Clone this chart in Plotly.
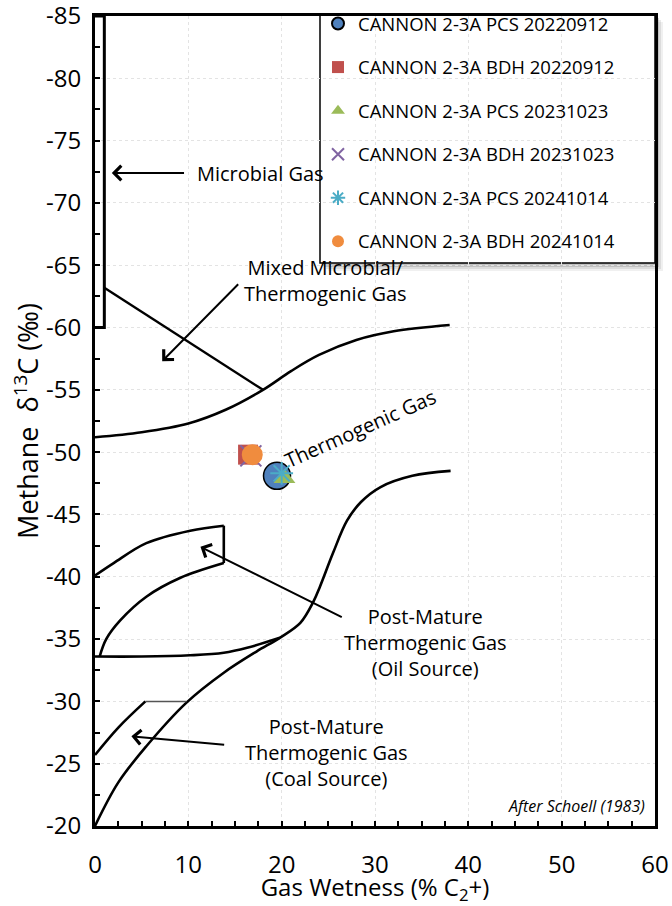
import plotly.graph_objects as go

# ---------------- data ----------------
# Sample points (Gas wetness %, methane d13C permil)
series_names = [
    "CANNON 2-3A PCS 20220912",
    "CANNON 2-3A BDH 20220912",
    "CANNON 2-3A PCS 20231023",
    "CANNON 2-3A BDH 20231023",
    "CANNON 2-3A PCS 20241014",
    "CANNON 2-3A BDH 20241014",
]
series_x = [19.5, 16.4, 20.3, 16.7, 20.0, 16.85]
series_y = [-48.1, -49.8, -47.9, -49.7, -48.3, -49.8]

# Schoell (1983) field boundaries
microbial_box_x = [0, 1, 1, 0]
microbial_box_y = [-85, -85, -60, -60]

mixed_line_x = [1, 18]
mixed_line_y = [-63.2, -55.0]

thermo_upper_x = [0, 5, 10, 14, 18, 21, 24, 28, 32, 38]
thermo_upper_y = [-51.2, -51.6, -52.3, -53.4, -55.0, -56.5, -57.8, -59.0, -59.7, -60.2]

thermo_lower_x = [0, 2.5, 5.5, 9.8, 13.8, 17.3, 19.8, 22, 23.4, 24.1, 25.5, 27.0, 28.5, 30.6, 34, 38.1]
thermo_lower_y = [-20, -23.5, -26.4, -29.9, -32.3, -34.0, -35.1, -36.3, -38.0, -39.2, -41.9, -44.5, -46.0, -47.2, -48.1, -48.5]

oil_base_x = [0, 5, 10.2, 13.8, 16.3, 19.8]
oil_base_y = [-33.6, -33.6, -33.7, -33.9, -34.3, -35.1]

oil_top_x = [0, 2, 5.5, 10.2, 13.8]
oil_top_y = [-40.1, -41.1, -42.7, -43.7, -44.1]

oil_edge_x = [13.8, 13.8]
oil_edge_y = [-44.1, -41.1]

oil_inner_x = [13.8, 9.1, 5.5, 2.7, 1.2, 0.5]
oil_inner_y = [-41.1, -39.9, -38.4, -36.5, -35.0, -33.6]

coal_top_x = [0, 2.5, 5.4]
coal_top_y = [-25.7, -27.9, -30.0]

coal_flat_x = [5.4, 9.8]
coal_flat_y = [-30.0, -30.0]

x_ticks = [0, 10, 20, 30, 40, 50, 60]
x_tick_text = ["0", "10", "20", "30", "40", "50", "60"]
y_ticks = [-85, -80, -75, -70, -65, -60, -55, -50, -45, -40, -35, -30, -25, -20]
y_tick_text = ["-85", "-80", "-75", "-70", "-65", "-60", "-55", "-50", "-45", "-40", "-35", "-30", "-25", "-20"]

# ---------------- styling ----------------
FONT = "Open Sans"
INK = "#000000"
colors = ["#4F81BD", "#C0504D", "#9BBB59", "#8064A2", "#4BACC6", "#F08C3E"]
symbols = ["circle", "square", "triangle-up", "x-thin-open", "asterisk-open", "circle"]
sizes = [27, 20, 19, 21, 19, 21]

fig = go.Figure()

def curve(x, y, shape="spline", width=2.6, color="black"):
    fig.add_trace(go.Scatter(x=x, y=y, mode="lines", showlegend=False, hoverinfo="skip",
                             line=dict(color=color, width=width, shape=shape, smoothing=1.0)))

curve(microbial_box_x, microbial_box_y, shape="linear", width=3)
curve(mixed_line_x, mixed_line_y, shape="linear", width=2.4)
curve(thermo_upper_x, thermo_upper_y)
curve(thermo_lower_x, thermo_lower_y)
curve(oil_base_x, oil_base_y)
curve(oil_top_x, oil_top_y)
curve(oil_edge_x, oil_edge_y, shape="linear")
curve(oil_inner_x, oil_inner_y)
curve(coal_top_x, coal_top_y)
curve(coal_flat_x, coal_flat_y, shape="linear", width=1.5, color="#555555")

for i, name in enumerate(series_names):
    sym = symbols[i]
    if sym.endswith("-open"):
        marker = dict(symbol=sym, size=sizes[i], color=colors[i],
                      line=dict(color=colors[i], width=2))
    elif i == 0:
        marker = dict(symbol=sym, size=sizes[i], color=colors[i],
                      line=dict(color="black", width=1.5))
    else:
        marker = dict(symbol=sym, size=sizes[i], color=colors[i], line=dict(width=0))
    fig.add_trace(go.Scatter(x=[series_x[i]], y=[series_y[i]], mode="markers", name=name,
                             marker=marker, legendgroup=name))

# ---------------- annotations ----------------
ann = []
def arrow(x_head, y_head, x_tail, y_tail):
    ann.append(dict(x=x_head, y=y_head, ax=x_tail, ay=y_tail, xref="x", yref="y",
                    axref="x", ayref="y", text="", showarrow=True, arrowhead=4,
                    arrowsize=1.4, arrowwidth=2, arrowcolor="black", standoff=0, startstandoff=0))

def label(x, y, text, size=20, anchor="center", angle=0):
    ann.append(dict(x=x, y=y, xref="x", yref="y", text=text, showarrow=False,
                    xanchor=anchor, yanchor="middle", textangle=angle,
                    font=dict(family=FONT, size=size, color=INK)))

arrow(1.8, -72.4, 9.7, -72.4)
label(10.7, -72.4, "Microbial Gas", anchor="left")

arrow(7.2, -57.3, 15.5, -63.6)
label(24.7, -63.8, "Mixed Microbial/<br>Thermogenic Gas")

label(28.4, -51.9, "Thermogenic Gas", angle=-24)

arrow(11.3, -42.4, 26.6, -36.7)
label(35.4, -34.7, "Post-Mature<br>Thermogenic Gas<br>(Oil Source)")

arrow(3.9, -27.2, 14.0, -26.5)
label(24.8, -25.9, "Post-Mature<br>Thermogenic Gas<br>(Coal Source)")

ann.append(dict(x=59.1, y=-21.6, xref="x", yref="y", text="<i>After Schoell (1983)</i>",
                showarrow=False, xanchor="right", yanchor="middle",
                font=dict(family=FONT, size=16, color=INK)))

# ---------------- legend box (with soft shadow) ----------------
W, H = 672, 906
L, R, T, B = 95, 17, 16, 80
pw, ph = W - L - R, H - T - B

def px_to_paper(x0, y0, x1, y1):
    return dict(x0=(x0 - L) / pw, x1=(x1 - L) / pw,
                y0=(H - B - y1) / ph, y1=(H - B - y0) / ph)

shapes = []
for off, op in [(8, 0.10), (6, 0.15), (4, 0.25)]:
    shapes.append(dict(type="rect", xref="paper", yref="paper", layer="between",
                       fillcolor=f"rgba(110,110,110,{op})", line=dict(width=0),
                       **px_to_paper(320 + off, 14 + off, 655 + off, 263 + off)))
shapes.append(dict(type="rect", xref="paper", yref="paper", layer="between",
                   fillcolor="white", line=dict(color="black", width=1.5),
                   **px_to_paper(320, 14, 655, 263)))

axis_common = dict(showline=True, linecolor="black", linewidth=3, mirror=True,
                   ticks="inside", ticklen=5, tickwidth=2, tickcolor="black",
                   showgrid=True, gridcolor="#e3e3e3", griddash="dot", gridwidth=1,
                   zeroline=False, automargin=False, ticklabeloverflow="allow",
                   tickfont=dict(family=FONT, size=24, color=INK))

fig.update_layout(
    width=W, height=H,
    margin=dict(l=L, r=R, t=T, b=B, autoexpand=False),
    paper_bgcolor="white", plot_bgcolor="white",
    xaxis=dict(range=[0, 60], tickvals=x_ticks, ticktext=x_tick_text, ticklabelstandoff=15,
               minor=dict(dtick=2.5, ticks="inside", ticklen=5, tickwidth=2, tickcolor="black", showgrid=False),
               title=dict(text="Gas Wetness (% C<sub>2</sub>+)", standoff=0,
                          font=dict(family=FONT, size=24, color=INK)),
               **axis_common),
    yaxis=dict(range=[-20, -85], tickvals=y_ticks, ticktext=y_tick_text, ticklabelstandoff=6,
               minor=dict(dtick=2.5, ticks="inside", ticklen=5, tickwidth=2, tickcolor="black", showgrid=False),
               title=dict(text="Methane  δ<sup>13</sup>C (‰)", standoff=0,
                          font=dict(family=FONT, size=27, color=INK)),
               **axis_common),
    legend=dict(x=(318 - L) / pw, y=(H - B - 5) / ph, xanchor="left", yanchor="top",
                bgcolor="rgba(0,0,0,0)", borderwidth=0, itemsizing="constant",
                tracegroupgap=16.5, font=dict(family=FONT, size=18.5, color=INK)),
    annotations=ann,
    shapes=shapes,
)

fig.write_html("out.html", config={"displayModeBar": False},
               post_script="document.body.style.margin='0px';document.body.style.overflow='hidden';")
